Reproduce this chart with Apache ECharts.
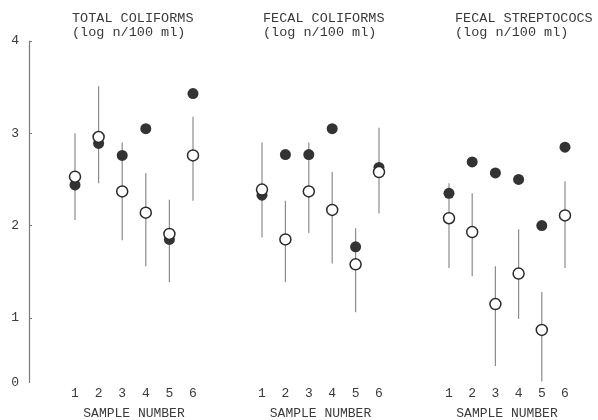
<!DOCTYPE html>
<html>
<head>
<meta charset="utf-8">
<script src="https://cdn.jsdelivr.net/npm/echarts@6/dist/echarts.min.js"></script>
<style>html,body{margin:0;padding:0;background:#fff}#c{width:598px;height:420px}</style>
</head>
<body>
<div id="c"></div>
<script>
var samples = [1, 2, 3, 4, 5, 6];
var panelTitles = ['TOTAL COLIFORMS\n(log n/100 ml)', 'FECAL COLIFORMS\n(log n/100 ml)', 'FECAL STREPTOCOCS\n(log n/100 ml)'];
var yTicks = [0.3, 1, 2, 3, 4];
var yTickText = ['0', '1', '2', '3', '4'];
var xAxisName = 'SAMPLE NUMBER';

var totalFilled = [2.44, 2.89, 2.76, 3.05, 1.85, 3.43];
var totalOpen   = [2.53, 2.96, 2.37, 2.14, 1.91, 2.76];
var totalLow    = [2.06, 2.46, 1.84, 1.56, 1.39, 2.27];
var totalHigh   = [3.00, 3.51, 2.90, 2.57, 2.28, 3.18];

var fecalFilled = [2.33, 2.77, 2.77, 3.05, 1.77, 2.63];
var fecalOpen   = [2.39, 1.85, 2.37, 2.17, 1.58, 2.58];
var fecalLow    = [1.87, 1.39, 1.92, 1.59, 1.06, 2.13];
var fecalHigh   = [2.90, 2.27, 2.90, 2.58, 1.97, 3.06];

var strepFilled = [2.35, 2.69, 2.57, 2.50, 2.00, 2.85];
var strepOpen   = [2.08, 1.93, 1.15, 1.48, 0.87, 2.11];
var strepLow    = [1.54, 1.45, 0.48, 0.99, 0.31, 1.54];
var strepHigh   = [2.46, 2.35, 1.56, 1.96, 1.28, 2.48];

var panels = [
  {filled: totalFilled, open: totalOpen, low: totalLow, high: totalHigh},
  {filled: fecalFilled, open: fecalOpen, low: fecalLow, high: fecalHigh},
  {filled: strepFilled, open: strepOpen, low: strepLow, high: strepHigh}
];

var FONT = '"Liberation Mono", "DejaVu Sans Mono", monospace';
var TXT = '#3a3a3a';
var YMIN = 0.3, YMAX = 4;
var TOP = 41, BOTTOM = 37.5;
var panelLayout = [
  {left: 63.2, width: 141.6},
  {left: 250.3, width: 140.4},
  {left: 437.4, width: 139.2}
];

var grids = [{left: 29, width: 1, top: TOP, bottom: BOTTOM, outerBoundsMode: 'none', containLabel: false}];
var xAxes = [{gridIndex: 0, type: 'value', show: false, min: 0, max: 1}];
var yAxes = [{
  gridIndex: 0, type: 'value', min: YMIN, max: YMAX,
  axisLine: {show: true, lineStyle: {color: '#7a7a7a', width: 1.2}},
  axisTick: {show: true, inside: true, length: 3, customValues: [1, 2, 3, 4], lineStyle: {color: '#7a7a7a'}},
  axisLabel: {
    customValues: yTicks, margin: 10, color: TXT, fontFamily: FONT, fontSize: 13,
    formatter: function (v) { var i = yTicks.indexOf(v); return i >= 0 ? yTickText[i] : ''; }
  },
  splitLine: {show: false}
}];
var series = [];
var titles = [];

panels.forEach(function (p, k) {
  var gi = k + 1;
  grids.push({left: panelLayout[k].left, width: panelLayout[k].width, top: TOP, bottom: BOTTOM,
              outerBoundsMode: 'none', containLabel: false});
  xAxes.push({
    gridIndex: gi, type: 'value', min: 0.5, max: 6.5,
    axisLine: {show: false}, axisTick: {show: false}, splitLine: {show: false},
    axisLabel: {customValues: samples, margin: 5, color: TXT, fontFamily: FONT, fontSize: 13},
    name: xAxisName, nameLocation: 'middle', nameGap: 25,
    nameTextStyle: {color: TXT, fontFamily: FONT, fontSize: 13}
  });
  yAxes.push({gridIndex: gi, type: 'value', min: YMIN, max: YMAX, show: false});
  var bars = samples.map(function (s, i) { return [s, p.low[i], p.high[i]]; });
  series.push({
    type: 'custom', xAxisIndex: gi, yAxisIndex: gi, data: bars, silent: true, z: 1,
    renderItem: function (params, api) {
      var a = api.coord([api.value(0), api.value(1)]);
      var b = api.coord([api.value(0), api.value(2)]);
      return {type: 'line', shape: {x1: a[0], y1: a[1], x2: b[0], y2: b[1]},
              style: {stroke: '#8c8c8c', lineWidth: 1.2}};
    }
  });
  series.push({
    type: 'scatter', xAxisIndex: gi, yAxisIndex: gi, z: 2, symbolSize: 11,
    data: samples.map(function (s, i) { return [s, p.filled[i]]; }),
    itemStyle: {color: '#333333', opacity: 1}
  });
  series.push({
    type: 'scatter', xAxisIndex: gi, yAxisIndex: gi, z: 3, symbolSize: 11,
    data: samples.map(function (s, i) { return [s, p.open[i]]; }),
    itemStyle: {color: '#ffffff', borderColor: '#2a2a2a', borderWidth: 1.5, opacity: 1}
  });
});

titles = [
  {text: panelTitles[0], left: 72, top: 11},
  {text: panelTitles[1], left: 263, top: 11},
  {text: panelTitles[2], left: 455, top: 11}
].map(function (t) {
  return {text: t.text, left: t.left, top: t.top, padding: 0,
          textStyle: {color: TXT, fontFamily: FONT, fontSize: 13.5, fontWeight: 'normal', lineHeight: 14}};
});

var chart = echarts.init(document.getElementById('c'), null, {renderer: 'canvas'});
chart.setOption({
  animation: false,
  backgroundColor: '#ffffff',
  title: titles,
  grid: grids,
  xAxis: xAxes,
  yAxis: yAxes,
  series: series
});
</script>
</body>
</html>
